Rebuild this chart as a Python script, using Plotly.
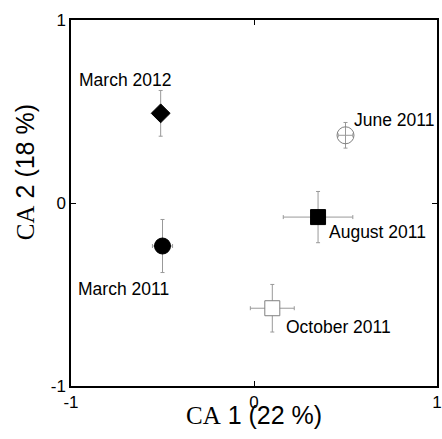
import plotly.graph_objects as go

labels = ["March 2011", "June 2011", "August 2011", "October 2011", "March 2012"]
ca1 = [-0.50, 0.50, 0.35, 0.10, -0.51]
ca2 = [-0.235, 0.37, -0.077, -0.575, 0.49]
err_ca1 = [0.055, 0.04, 0.19, 0.12, 0.04]
err_ca2 = [0.145, 0.07, 0.14, 0.13, 0.125]
tick_vals = [-1, 0, 1]
tick_text = ["-1", "0", "1"]

symbols = ["circle", "circle-open", "square", "square", "diamond"]
sizes = [16, 17, 15, 15, 14.5]
fill = ["#000000", "#808080", "#000000", "#ffffff", "#000000"]
edge = ["#000000", "#808080", "#000000", "#808080", "#000000"]
# label offsets in pixels (dx, dy up)
offsets = [(-39, -43), (48, 15), (59, -15), (66, -19), (-36, 33)]

fig = go.Figure()
fig.add_trace(go.Scatter(
    x=ca1, y=ca2, mode="markers",
    marker=dict(symbol=symbols, size=sizes, color=fill, opacity=1,
                line=dict(color=edge, width=1)),
    error_x=dict(type="data", array=err_ca1, color="#999999", thickness=1, width=2),
    error_y=dict(type="data", array=err_ca2, color="#999999", thickness=1, width=2),
    showlegend=False, hoverinfo="skip",
))

for lab, xv, yv, (dx, dy) in zip(labels, ca1, ca2, offsets):
    fig.add_annotation(x=xv, y=yv, xref="x", yref="y", text=lab, showarrow=False,
                       xshift=dx, yshift=dy,
                       font=dict(family="Liberation Sans", size=17.5, color="black"))

serif = "font-family:'Liberation Serif'"
fig.add_annotation(x=0.5, y=-0.08, xref="paper", yref="paper", yanchor="middle",
                   text=f"<span style=\"{serif}\">CA</span> 1 (22 %)", showarrow=False,
                   font=dict(family="Liberation Sans", size=25, color="black"))
fig.add_annotation(x=-0.125, y=0.585, xref="paper", yref="paper", xanchor="center",
                   textangle=-90,
                   text=f"<span style=\"{serif}\">CA</span> 2 (18 %)", showarrow=False,
                   font=dict(family="Liberation Sans", size=25, color="black"))

axis_common = dict(range=[-1, 1], tickvals=tick_vals, ticktext=tick_text,
                   ticks="inside", ticklen=5, tickwidth=1, tickcolor="black",
                   showline=True, linecolor="black", linewidth=1.5, mirror="ticks",
                   showgrid=False, zeroline=False, automargin=False,
                   tickfont=dict(family="Liberation Sans", size=17, color="black"))
fig.update_xaxes(**axis_common)
fig.update_yaxes(**axis_common)

fig.update_layout(width=442, height=439, autosize=False,
                  margin=dict(l=71, r=5, t=20, b=53),
                  plot_bgcolor="white", paper_bgcolor="white")
fig.write_html("out.html", config={"displayModeBar": False, "responsive": False})

with open("out.html", "r", encoding="utf-8") as f:
    html = f.read()
html = html.replace("<body>", "<body style=\"margin:0;padding:0;overflow:hidden\">", 1)
with open("out.html", "w", encoding="utf-8") as f:
    f.write(html)
